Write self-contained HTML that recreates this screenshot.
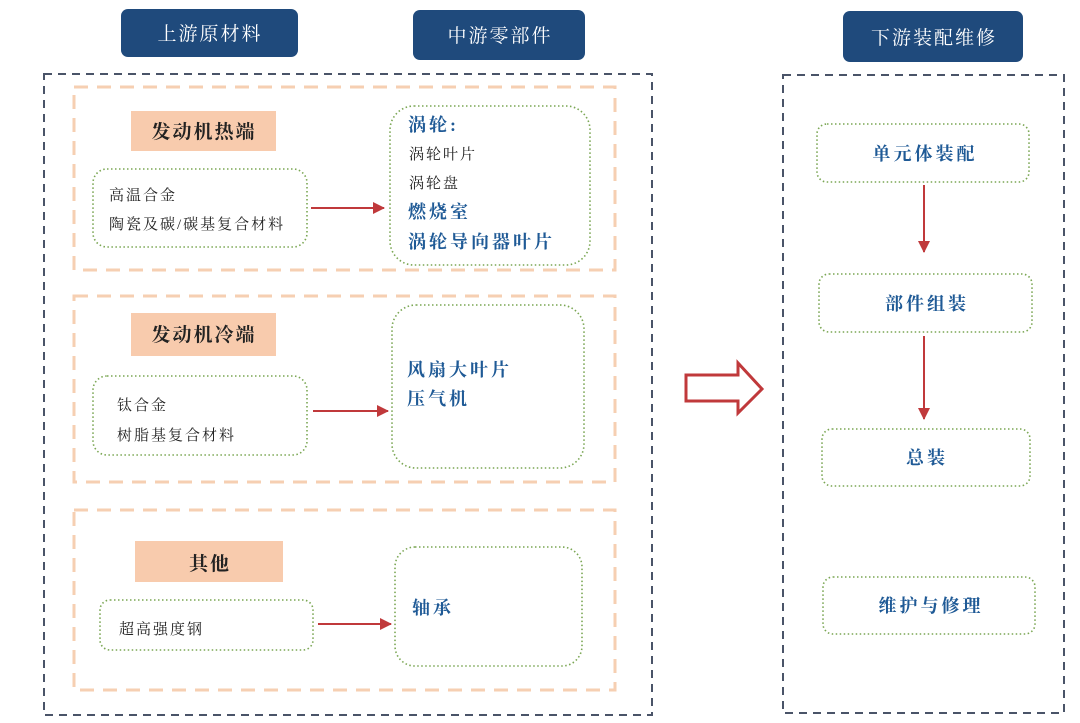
<!DOCTYPE html>
<html><head><meta charset="utf-8"><style>
html,body{margin:0;padding:0;background:#fff;}
svg{display:block;}
text{font-family:"Liberation Serif","Noto Serif CJK SC","Noto Sans CJK SC",serif;}
.h{fill:#fff;font-size:19px;letter-spacing:2px;}
.lab{fill:#222;font-size:19px;font-weight:bold;letter-spacing:2px;}
.k{fill:#222;font-size:15px;letter-spacing:2px;}
.b{fill:#1f5a96;font-size:18px;font-weight:bold;letter-spacing:3px;}
</style></head><body>
<svg width="1080" height="723" viewBox="0 0 1080 723" xmlns="http://www.w3.org/2000/svg">
<defs>
<marker id="ar" markerWidth="12" markerHeight="12" refX="11" refY="6" orient="auto" markerUnits="userSpaceOnUse"><path d="M0,0 L12,6 L0,12 z" fill="#c0393b"/></marker>
</defs>
<rect x="121" y="9" width="177" height="48" rx="7" fill="#1f4a7c"/>
<text class="h" x="210" y="40" text-anchor="middle">上游原材料</text>
<rect x="413" y="10" width="172" height="50" rx="7" fill="#1f4a7c"/>
<text class="h" x="500" y="42" text-anchor="middle">中游零部件</text>
<rect x="843" y="11" width="180" height="51" rx="7" fill="#1f4a7c"/>
<text class="h" x="934" y="44" text-anchor="middle">下游装配维修</text>
<rect x="44" y="74" width="608" height="641" fill="none" stroke="#4a5468" stroke-width="2" stroke-dasharray="8,6"/>
<rect x="783" y="75" width="281" height="638" fill="none" stroke="#4a5468" stroke-width="2" stroke-dasharray="8,6"/>
<g fill="none" stroke="#f6cfb2" stroke-width="3" stroke-dasharray="14,9">
<rect x="74" y="87" width="541" height="183"/>
<rect x="74" y="296" width="541" height="186"/>
<rect x="74" y="510" width="541" height="180"/>
</g>
<rect x="131" y="111" width="145" height="40" fill="#f8cbad"/>
<text class="lab" x="204" y="138" text-anchor="middle">发动机热端</text>
<rect x="131" y="313" width="145" height="43" fill="#f8cbad"/>
<text class="lab" x="204" y="341" text-anchor="middle">发动机冷端</text>
<rect x="135" y="541" width="148" height="41" fill="#f8cbad"/>
<text class="lab" x="210" y="570" text-anchor="middle">其他</text>
<g fill="none" stroke="#7aa653" stroke-width="1.6" stroke-dasharray="1.5,2.5">
<rect x="93" y="169" width="214" height="78" rx="14"/>
<rect x="93" y="376" width="214" height="79" rx="14"/>
<rect x="100" y="600" width="213" height="50" rx="10"/>
<rect x="390" y="106" width="200" height="159" rx="24"/>
<rect x="392" y="305" width="192" height="163" rx="24"/>
<rect x="395" y="547" width="187" height="119" rx="20"/>
<rect x="817" y="124" width="212" height="58" rx="10"/>
<rect x="819" y="274" width="213" height="58" rx="10"/>
<rect x="822" y="429" width="208" height="57" rx="10"/>
<rect x="823" y="577" width="212" height="57" rx="10"/>
</g>
<text class="k" x="109" y="200">高温合金</text>
<text class="k" x="109" y="229">陶瓷及碳/碳基复合材料</text>
<text class="k" x="117" y="410">钛合金</text>
<text class="k" x="117" y="440">树脂基复合材料</text>
<text class="k" x="119" y="634">超高强度钢</text>
<text class="b" x="408" y="131">涡轮:</text>
<text class="k" x="409" y="159">涡轮叶片</text>
<text class="k" x="409" y="188">涡轮盘</text>
<text class="b" x="408" y="218">燃烧室</text>
<text class="b" x="408" y="248">涡轮导向器叶片</text>
<text class="b" x="407" y="376">风扇大叶片</text>
<text class="b" x="407" y="405">压气机</text>
<text class="b" x="412" y="614">轴承</text>
<text class="b" x="925" y="160" text-anchor="middle">单元体装配</text>
<text class="b" x="927" y="310" text-anchor="middle">部件组装</text>
<text class="b" x="927" y="464" text-anchor="middle">总装</text>
<text class="b" x="931" y="612" text-anchor="middle">维护与修理</text>
<g stroke="#c0393b" stroke-width="2" marker-end="url(#ar)">
<line x1="311" y1="208" x2="384" y2="208"/>
<line x1="313" y1="411" x2="388" y2="411"/>
<line x1="318" y1="624" x2="391" y2="624"/>
<line x1="924" y1="185" x2="924" y2="252"/>
<line x1="924" y1="336" x2="924" y2="419"/>
</g>
<path d="M686,375 L738,375 L738,363 L762,389 L738,413 L738,401 L686,401 Z" fill="#fff" stroke="#c0393b" stroke-width="3"/>
</svg>
</body></html>
